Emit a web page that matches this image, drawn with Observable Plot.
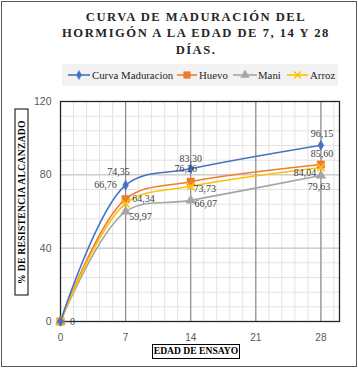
<!DOCTYPE html>
<html>
<head>
<meta charset="utf-8">
<script src="https://cdn.jsdelivr.net/npm/d3@7"></script>
<script src="https://cdn.jsdelivr.net/npm/@observablehq/plot@0.6"></script>
<style>
  html, body { margin: 0; padding: 0; background: #fff; }
  #page { position: relative; width: 358px; height: 368px; overflow: hidden; font-family: "Liberation Serif", serif; }
  #border { position: absolute; left: 1px; top: 1px; width: 356px; height: 366px; border: 1px solid #595959; box-sizing: border-box; pointer-events: none; }
  #title { position: absolute; left: 40px; width: 312px; top: 9px; text-align: center; font-weight: bold; font-size: 12.6px; letter-spacing: 1.5px; line-height: 16.3px; color: #262626; }
  #legend { position: absolute; left: 62px; top: 64px; width: 276px; height: 22px; background: #f2f2f2; }
  #chart { position: absolute; left: 0; top: 90px; }
  #ytitle { position: absolute; left: -72.5px; top: 194.5px; width: 187px; height: 14px; transform: rotate(-90deg); border: 1.5px solid #000; box-sizing: border-box; font-weight: bold; font-size: 9.6px; text-align: center; line-height: 11px; letter-spacing: 0.3px; color: #000; background: #fff; }
  #xtitle { position: absolute; left: 152px; top: 344px; width: 88px; height: 15px; border: 1.5px solid #000; box-sizing: border-box; font-weight: bold; font-size: 9.6px; text-align: center; line-height: 12px; color: #000; background: #fff; }
</style>
</head>
<body>
<div id="page">
  <div id="title">CURVA DE MADURACIÓN DEL<br>HORMIGÓN A LA EDAD DE 7, 14 Y 28<br>DÍAS.</div>
  <div id="legend"></div>
  <div id="chart"></div>
  <div id="ytitle">% DE RESISTENCIA ALCANZADO</div>
  <div id="xtitle">EDAD DE ENSAYO</div>
  <div id="border"></div>
</div>
<script>
// ---- data ----
const ages = [0, 7, 14, 28];
const seriesNames = ["Curva Maduracion", "Huevo", "Mani", "Arroz"];
const curvaMaduracion = [0, 74.35, 83.30, 96.15];
const huevo = [0, 66.76, 76.26, 85.60];
const mani = [0, 59.97, 66.07, 79.63];
const arroz = [0, 64.34, 73.73, 84.04];
const xTicks = [0, 7, 14, 21, 28];
const yTicks = [0, 40, 80, 120];

// ---- styles ----
const colors = ["#4472C4", "#ED7D31", "#A5A5A5", "#FFC000"];
const symbols = ["diamond", "square", "triangle", "times"];
const symbolSizes = [30, 55, 40, 40];
// label offsets [dx, dy] per series per point index
const labelOffsets = [
  [[12, 0], [-7, -13], [0, -10], [1, -11]],
  [null, [-20, -14], [-5, -13], [1, -11]],
  [null, [15, 5], [15, 3], [-2, 11]],
  [null, [18, -5], [14, 2], [-16, 5]]
];

const valuesBySeries = [curvaMaduracion, huevo, mani, arroz];
const rows = [];
seriesNames.forEach((s, i) => ages.forEach((a, j) => rows.push({series: s, si: i, pi: j, age: a, value: valuesBySeries[i][j]})));

const fmt = v => v === 0 ? "0" : v.toFixed(2).replace(".", ",");

const minorX = d3.range(0, 30.001, 1.4).map(v => +v.toFixed(2));
const minorY = d3.range(0, 121, 8);

const marks = [
  Plot.ruleX(minorX, {stroke: "#e3e3e3", strokeWidth: 1}),
  Plot.ruleY(minorY, {stroke: "#e3e3e3", strokeWidth: 1}),
  Plot.ruleY([40, 80], {stroke: "#d0d0d0", strokeWidth: 1.5}),
  Plot.ruleX([7, 14, 21, 28], {stroke: "#8c8c8c", strokeWidth: 1.2}),
  Plot.frame({stroke: "#262626", strokeWidth: 1.3}),
  Plot.axisX(xTicks, {label: null, tickSize: 0, tickPadding: 12, fontSize: 10, fill: "#595959", fontFamily: "Liberation Sans, sans-serif", style: {letterSpacing: "1px"}}),
  Plot.axisY(yTicks, {label: null, tickSize: 0, tickPadding: 9, fontSize: 10.5, fill: "#595959", fontFamily: "Liberation Sans, sans-serif"})
];

// lines, in reverse so blue is on top
[2, 1, 3, 0].forEach(i => {
  const d = rows.filter(r => r.si === i);
  marks.push(Plot.line(d, {x: "age", y: "value", stroke: colors[i], strokeWidth: 1.6, curve: "catmull-rom"}));
});
[2, 1, 3, 0].forEach(i => {
  const d = rows.filter(r => r.si === i);
  const filled = symbols[i] !== "times";
  marks.push(Plot.dot(d, {x: "age", y: "value", symbol: symbols[i], r: Math.sqrt(symbolSizes[i] / Math.PI),
    fill: filled ? colors[i] : "none", stroke: colors[i], strokeWidth: filled ? 0.5 : 1.6}));
});
rows.forEach(r => {
  const off = labelOffsets[r.si][r.pi];
  if (!off) return;
  marks.push(Plot.text([r], {x: "age", y: "value", text: d => fmt(d.value), dx: off[0], dy: off[1],
    fontSize: 10, fill: "#404040", fontFamily: "Liberation Serif, serif"}));
});

const chart = Plot.plot({
  width: 358,
  height: 278,
  marginLeft: 60,
  marginRight: 19,
  marginTop: 11,
  marginBottom: 47,
  x: {domain: [0, 30], axis: null},
  y: {domain: [0, 120], axis: null},
  style: {background: "transparent", overflow: "visible"},
  marks
});
document.getElementById("chart").appendChild(chart);

// ---- legend (HTML/SVG) ----
const legend = d3.select("#legend").append("svg").attr("width", 276).attr("height", 22);
const legendItems = [
  {x0: 6, x1: 28, tx: 30},
  {x0: 115, x1: 135, tx: 137},
  {x0: 171, x1: 195, tx: 196},
  {x0: 225, x1: 246, tx: 248}
];
legendItems.forEach((it, i) => {
  const g = legend.append("g");
  g.append("line").attr("x1", it.x0).attr("x2", it.x1).attr("y1", 11).attr("y2", 11).attr("stroke", colors[i]).attr("stroke-width", 1.6);
  const sym = {diamond: d3.symbolDiamond, square: d3.symbolSquare, triangle: d3.symbolTriangle, times: d3.symbolTimes}[symbols[i]];
  const filled = symbols[i] !== "times";
  g.append("path").attr("d", d3.symbol(sym, symbolSizes[i] * 0.8)()).attr("transform", `translate(${(it.x0 + it.x1) / 2},11)`)
    .attr("fill", filled ? colors[i] : "none").attr("stroke", colors[i]).attr("stroke-width", filled ? 0.5 : 1.5);
  g.append("text").attr("x", it.tx).attr("y", 15).text(seriesNames[i]).attr("font-size", 10.8).attr("fill", "#262626")
    .attr("font-family", "Liberation Serif, serif");
});
</script>
</body>
</html>
